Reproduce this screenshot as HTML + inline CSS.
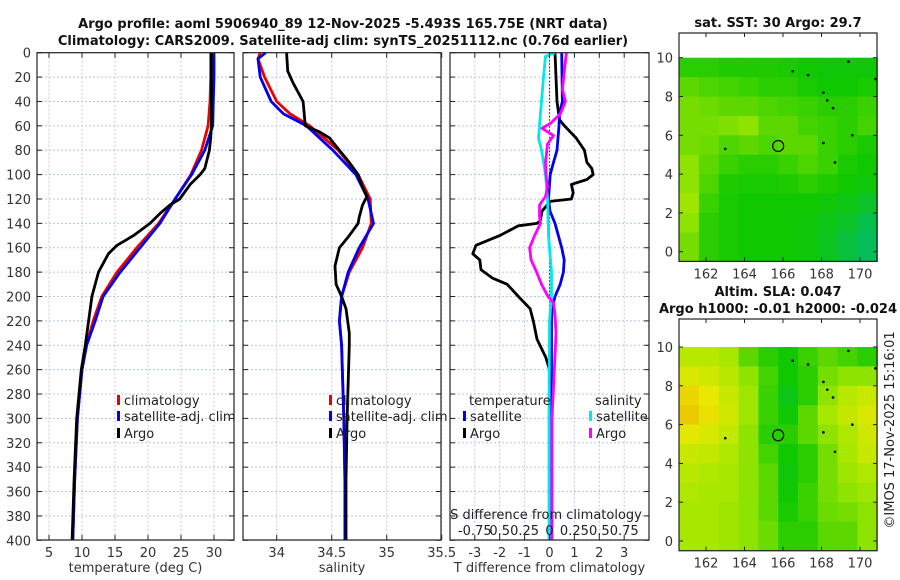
<!DOCTYPE html>
<html><head><meta charset="utf-8"><style>
html,body{margin:0;padding:0;background:#fff;}
svg{display:block;font-family:"DejaVu Sans","Liberation Sans",sans-serif;}
</style></head><body>
<svg id="fig" width="900" height="580" viewBox="0 0 900 580" xmlns="http://www.w3.org/2000/svg">
<g font-weight="bold" font-size="13" text-anchor="middle" fill="#111">
<text x="343" y="28">Argo profile: aoml 5906940_89 12-Nov-2025 -5.493S 165.75E (NRT data)</text>
<text x="343" y="45">Climatology: CARS2009. Satellite-adj clim: synTS_20251112.nc (0.76d earlier)</text>
</g>
<g id="g1"></g>
<g id="g2"></g>
<g id="g3"></g>
<g id="m1"></g>
<g id="m2"></g>
<text x="0" y="0" font-size="13" fill="#222" text-anchor="middle" transform="translate(894,430) rotate(-90)">©IMOS 17-Nov-2025 15:16:01</text>
</svg>
<script>
// ---- profile data ----
const tDepth=[0,20,40,60,80,100,120,140,160,180,200,220,240,260,300,350,400];
const tClim=[29.5,29.5,29.4,29.1,28.1,26.5,24.1,21.6,18.3,15.3,13.0,11.7,10.7,10.0,9.3,8.9,8.6];
const tSat=[30.0,30.0,29.9,29.8,28.6,26.6,24.1,21.8,18.8,15.8,13.2,12.0,10.7,10.0,9.3,8.9,8.6];
const tArgoDepth=[0,60,70,80,95,100,108,120,125,132,140,150,158,165,180,200,220,240,260,300,350,400];
const tArgo=[29.6,29.6,29.5,29.3,28.6,27.9,26.4,24.8,23.3,21.8,20.3,17.8,15.3,14.0,12.5,11.5,11.0,10.5,9.9,9.2,8.8,8.5];
const sDepth=[0,5,20,40,50,60,80,100,120,140,160,180,200,220,240,300,350,400];
const sClim=[33.85,33.83,33.89,34.0,34.12,34.3,34.56,34.74,34.85,34.86,34.78,34.66,34.59,34.57,34.59,34.61,34.62,34.62];
const sSat=[33.9,33.83,33.85,33.95,34.06,34.27,34.51,34.72,34.83,34.88,34.75,34.65,34.59,34.57,34.59,34.61,34.62,34.62];
const sArgoDepth=[0,15,25,40,50,60,65,70,80,90,100,110,118,125,135,140,150,160,175,190,200,210,230,240,300,350,400];
const sArgo=[34.09,34.1,34.15,34.24,34.25,34.26,34.39,34.48,34.57,34.66,34.74,34.78,34.82,34.78,34.75,34.74,34.66,34.57,34.53,34.54,34.59,34.63,34.66,34.66,34.64,34.63,34.63];
// difference panel
const dtSatDepth=[0,40,50,60,80,90,100,120,130,140,160,170,180,190,200,210,220,300,400];
const dtSat=[0.49,0.52,0.4,0.38,0.3,0.16,0.03,-0.04,0.02,0.22,0.49,0.59,0.56,0.43,0.22,0.1,0.08,0.08,0.08];
const dtArgoDepth=[0,40,55,60,70,80,90,95,100,104,108,115,120,122,130,138,140,142,150,158,165,170,178,185,190,200,210,220,235,250,260,300,400];
const dtArgo=[0.22,0.3,0.4,0.6,1.07,1.4,1.5,1.7,1.75,1.5,0.88,0.95,0.88,0.03,-0.3,-0.37,-0.5,-1.25,-2.0,-2.95,-3.08,-2.8,-2.75,-2.28,-1.7,-1.25,-0.78,-0.65,-0.5,-0.15,0.0,0.05,0.05];
const dsSatDepth=[0,3,20,60,70,80,100,120,150,180,200,220,300,400];
const dsSat=[0.055,-0.04,-0.06,-0.1,-0.11,-0.08,-0.04,-0.02,-0.01,0.02,0.02,0.0,-0.005,-0.005];
const dsArgoDepth=[0,30,40,50,58,62,68,75,90,100,110,118,125,135,140,150,160,170,180,190,200,205,215,230,240,300,400];
const dsArgo=[0.17,0.13,0.16,0.11,0.01,-0.075,0.04,-0.02,-0.04,-0.035,-0.02,-0.04,-0.1,-0.1,-0.09,-0.15,-0.2,-0.185,-0.13,-0.08,-0.015,0.04,0.055,0.065,0.06,0.025,0.025];
const depthTicks=[0,20,40,60,80,100,120,140,160,180,200,220,240,260,280,300,320,340,360,380,400];
const tTicks=[5,10,15,20,25,30];
const sTicks=[34,34.5,35,35.5];
const sTickLabels=["34","34.5","35","35.5"];
const dTicks=[-3,-2,-1,0,1,2,3];
const dsTicks=[-0.75,-0.5,-0.25,0,0.25,0.5,0.75];
const dsTickLabels=["-0.75","0.5","0.25","0","0.25","0.5","0.75"];
// ---- map data (0..1 colour index), rows north->south ----
const latEdges=[10,9,8,7,6,5,4,3,2,1,-0.5];
const lonEdges=[160.6,161.63,162.66,163.69,164.72,165.75,166.78,167.81,168.84,169.87,170.9];
const sstGrid=[
[0.35,0.35,0.33,0.33,0.33,0.32,0.3,0.28,0.28,0.28],
[0.45,0.42,0.4,0.38,0.35,0.35,0.32,0.3,0.3,0.32],
[0.5,0.48,0.45,0.45,0.42,0.4,0.38,0.35,0.35,0.38],
[0.5,0.5,0.52,0.55,0.45,0.45,0.4,0.38,0.35,0.4],
[0.5,0.48,0.42,0.45,0.42,0.45,0.45,0.38,0.35,0.32],
[0.55,0.45,0.38,0.35,0.35,0.38,0.42,0.38,0.32,0.3],
[0.55,0.42,0.33,0.32,0.32,0.33,0.35,0.33,0.3,0.28],
[0.58,0.38,0.32,0.3,0.3,0.3,0.3,0.28,0.25,0.2],
[0.55,0.35,0.32,0.3,0.3,0.3,0.28,0.25,0.2,0.12],
[0.5,0.35,0.32,0.3,0.3,0.3,0.28,0.22,0.15,0.08]];
const slaGrid=[
[0.65,0.65,0.6,0.45,0.35,0.3,0.38,0.45,0.4,0.35],
[0.75,0.72,0.65,0.55,0.4,0.3,0.35,0.5,0.55,0.55],
[0.85,0.8,0.7,0.58,0.38,0.25,0.35,0.55,0.65,0.7],
[0.88,0.82,0.72,0.58,0.38,0.3,0.45,0.6,0.68,0.75],
[0.78,0.75,0.68,0.55,0.35,0.35,0.45,0.55,0.62,0.72],
[0.7,0.68,0.62,0.55,0.4,0.3,0.35,0.5,0.6,0.7],
[0.65,0.62,0.6,0.55,0.45,0.28,0.35,0.5,0.58,0.62],
[0.62,0.6,0.6,0.55,0.45,0.3,0.38,0.5,0.55,0.58],
[0.6,0.6,0.58,0.55,0.45,0.32,0.38,0.48,0.5,0.55],
[0.6,0.6,0.58,0.55,0.48,0.35,0.35,0.45,0.45,0.55]];
const latTicks=[0,2,4,6,8,10];
const lonTicks=[162,164,166,168,170];
const argoLon=165.75, argoLat=5.45;

const NS="http://www.w3.org/2000/svg";
function mk(tag,attrs,parent){const e=document.createElementNS(NS,tag);for(const k in attrs)e.setAttribute(k,attrs[k]);parent.appendChild(e);return e;}
const yD=d=>52.7+d*1.219;
const xT=t=>16+6.6*t;
const xS=s=>276.7+(s-34)*110;
const xD=t=>549.5+24.9*t;
const xDs=s=>xD(s*4);
const TOP=52.7,BOT=540;

function panel(g,x0,x1,xTickPos,tickLabelsArr,showY,xlabel){
  // grid
  depthTicks.forEach(d=>{const l=mk('line',{x1:x0,x2:x1,y1:yD(d),y2:yD(d),stroke:'#b8c4e8','stroke-width':1,'stroke-dasharray':'2,2'},g);
    });
  xTickPos.forEach(x=>{const l=mk('line',{x1:x,x2:x,y1:TOP,y2:BOT,stroke:'#c8c4e0','stroke-width':1,'stroke-dasharray':'2,2'},g);
    });
}
function frame(g,x0,x1,xTickPos,labels,showY,xlabel){
  const r=mk('rect',{x:x0,y:TOP,width:x1-x0,height:BOT-TOP,fill:'none',stroke:'#222','stroke-width':1.2},g);
  
  depthTicks.forEach(d=>{
    mk('line',{x1:x0,x2:x0+5,y1:yD(d),y2:yD(d),stroke:'#222'},g);
    mk('line',{x1:x1-5,x2:x1,y1:yD(d),y2:yD(d),stroke:'#222'},g);
    if(showY){const t=mk('text',{x:x0-6,y:yD(d)+5,'font-size':13,'text-anchor':'end',fill:'#333'},g);t.textContent=d;
      }
  });
  xTickPos.forEach((x,i)=>{
    mk('line',{x1:x,x2:x,y1:BOT,y2:BOT-5,stroke:'#222'},g);
    mk('line',{x1:x,x2:x,y1:TOP,y2:TOP+5,stroke:'#222'},g);
    const t=mk('text',{x:x,y:BOT+17,'font-size':13,'text-anchor':'middle',fill:'#333'},g);t.textContent=labels[i];
    
  });
  const xl=mk('text',{x:(x0+x1)/2,y:572,'font-size':13,'text-anchor':'middle',fill:'#333'},g);xl.textContent=xlabel;
  
}
function line(g,depths,vals,fx,color,name,w){
  const pts=depths.map((d,i)=>fx(vals[i]).toFixed(1)+','+yD(d).toFixed(1)).join(' ');
  const p=mk('polyline',{points:pts,fill:'none',stroke:color,'stroke-width':w||2.8,'stroke-linejoin':'round'},g);
  
}
function legendEntry(g,x,y,color,label,name){
  mk('rect',{x:x,y:y-10,width:3,height:10,fill:color},g);
  const t=mk('text',{x:x+7,y:y,'font-size':13,fill:'#222'},g);t.textContent=label;
  
}
// Panel 1
const g1=document.getElementById('g1');
const p1x=tTicks.map(xT);
panel(g1,37,234,p1x);
line(g1,tDepth,tClim,xT,'#ee0000','climatology-temp-line');
line(g1,tDepth,tSat,xT,'#0000ee','satellite-temp-line');
line(g1,tArgoDepth,tArgo,xT,'#000','argo-temp-line');
frame(g1,37,234,p1x,tTicks,true,'temperature (deg C)');
legendEntry(g1,117,405,'#ee0000','climatology','legend-climatology');
legendEntry(g1,117,421,'#0000ee','satellite-adj. clim','legend-satellite-adj');
legendEntry(g1,117,438,'#000','Argo','legend-argo');
// Panel 2
const g2=document.getElementById('g2');
const p2x=sTicks.map(xS);
panel(g2,243,441,p2x);
line(g2,sDepth,sClim,xS,'#ee0000','climatology-sal-line');
line(g2,sDepth,sSat,xS,'#0000ee','satellite-sal-line');
line(g2,sArgoDepth,sArgo,xS,'#000','argo-sal-line');
frame(g2,243,441,p2x,sTickLabels,false,'salinity');
legendEntry(g2,329,405,'#ee0000','climatology','legend-climatology-2');
legendEntry(g2,329,421,'#0000ee','satellite-adj. clim','legend-satellite-adj-2');
legendEntry(g2,329,438,'#000','Argo','legend-argo-2');
// Panel 3
const g3=document.getElementById('g3');
const p3x=dTicks.map(xD);
panel(g3,450,649,p3x);
const z=mk('line',{x1:xD(0),x2:xD(0),y1:TOP,y2:BOT,stroke:'#333','stroke-width':1.2,'stroke-dasharray':'1.5,2'},g3);

line(g3,dtArgoDepth,dtArgo,xD,'#000','argo-temp-diff-line');
line(g3,dtSatDepth,dtSat,xD,'#0000ee','satellite-temp-diff-line');
line(g3,dsSatDepth,dsSat,xDs,'#00e8e8','satellite-sal-diff-line');
line(g3,dsArgoDepth,dsArgo,xDs,'#ff00ff','argo-sal-diff-line');
frame(g3,450,649,p3x,dTicks,false,'T difference from climatology');
{const t=mk('text',{x:469,y:405,'font-size':13,fill:'#222'},g3);t.textContent='temperature';
 const t2=mk('text',{x:595,y:405,'font-size':13,fill:'#222'},g3);t2.textContent='salinity';}
legendEntry(g3,463,421,'#0000ee','satellite','legend-temp-satellite');
legendEntry(g3,463,438,'#000','Argo','legend-temp-argo');
legendEntry(g3,589,421,'#00e8e8','satellite','legend-sal-satellite');
legendEntry(g3,589,438,'#ff00ff','Argo','legend-sal-argo');
{const t=mk('text',{x:546,y:519,'font-size':13,'text-anchor':'middle',fill:'#222'},g3);t.textContent='S difference from climatology';
 
 dsTicks.forEach((s,i)=>{const l=mk('text',{x:xDs(s),y:535,'font-size':13,'text-anchor':'middle',fill:'#222'},g3);l.textContent=dsTickLabels[i];
  });}

// Maps
const stops=[[0,[0,184,120]],[0.3,[16,200,0]],[0.6,[168,232,0]],[0.8,[232,232,0]],[1,[240,160,0]]];
function cmap(v){for(let i=1;i<stops.length;i++){if(v<=stops[i][0]){const a=stops[i-1],b=stops[i];const f=(v-a[0])/(b[0]-a[0]);
  return 'rgb('+a[1].map((c,k)=>Math.round(c+(b[1][k]-c)*f)).join(',')+')';}}return 'rgb(240,160,0)';}
function drawMap(id,grid,top,lat0y,title1,title2){
  const g=document.getElementById(id);
  const lx=lon=>706+(lon-162)*19.25, ly=lat=>lat0y-lat*19.4;
  const L=679,R=877,B=ly(-0.5);
  grid.forEach((row,r)=>row.forEach((v,c)=>{
    const x=lx(lonEdges[c]),y=ly(latEdges[r]);
    const cell=mk('rect',{x:x.toFixed(1),y:y.toFixed(1),width:(lx(lonEdges[c+1])-x+0.6).toFixed(1),height:(ly(latEdges[r+1])-y+0.6).toFixed(1),fill:cmap(v)},g);
    
  }));
  [[163,5.3],[168.1,5.6],[168.7,4.6],[169.6,6],[168.6,7.4],[168.3,7.8],[167.3,9.1],[166.5,9.3],[169.4,9.8],[170.8,8.9],[168.1,8.2]].forEach(p=>{
    const d=mk('circle',{cx:lx(p[0]),cy:ly(p[1]),r:1.3,fill:'#000'},g);});
  const c=mk('circle',{cx:lx(argoLon),cy:ly(argoLat),r:5.5,fill:'none',stroke:'#000','stroke-width':1.2},g);
  
  const f=mk('rect',{x:L,y:top,width:R-L,height:B-top,fill:'none',stroke:'#222','stroke-width':1.2},g);
  
  latTicks.forEach(t=>{mk('line',{x1:L,x2:L+4,y1:ly(t),y2:ly(t),stroke:'#222'},g);mk('line',{x1:R-4,x2:R,y1:ly(t),y2:ly(t),stroke:'#222'},g);
    const tx=mk('text',{x:L-6,y:ly(t)+5,'font-size':13,'text-anchor':'end',fill:'#333'},g);tx.textContent=t;
    });
  lonTicks.forEach(t=>{mk('line',{x1:lx(t),x2:lx(t),y1:B,y2:B-4,stroke:'#222'},g);mk('line',{x1:lx(t),x2:lx(t),y1:top,y2:top+4,stroke:'#222'},g);
    const tx=mk('text',{x:lx(t),y:B+17,'font-size':13,'text-anchor':'middle',fill:'#333'},g);tx.textContent=t;
    });
  const titles=title2?[title1,title2]:[title1];
  titles.forEach((s,i)=>{const tx=mk('text',{x:778,y:top-(titles.length-1-i)*17-6,'font-size':13,'font-weight':'bold','text-anchor':'middle',fill:'#111'},g);tx.textContent=s;
    });
}
drawMap('m1',sstGrid,33,251.7,'sat. SST: 30 Argo: 29.7');
drawMap('m2',slaGrid,319,541,'Altim. SLA: 0.047','Argo h1000: -0.01 h2000: -0.024');
</script>
</body></html>
